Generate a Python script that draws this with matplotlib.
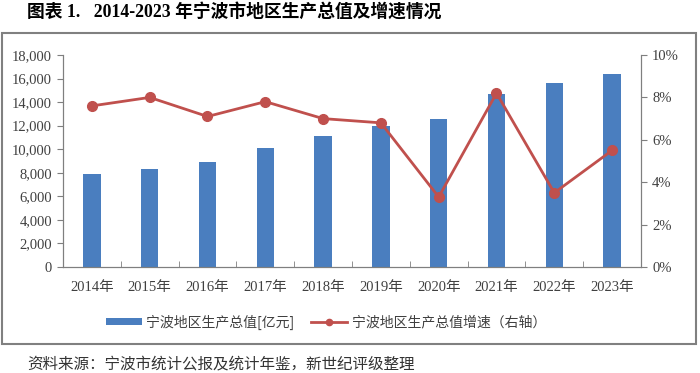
import matplotlib
matplotlib.use("Agg")
import matplotlib.pyplot as plt
from matplotlib.patches import Rectangle
from matplotlib.lines import Line2D
from matplotlib.ticker import FuncFormatter, PercentFormatter

years = ["2014年", "2015年", "2016年", "2017年", "2018年",
         "2019年", "2020年", "2021年", "2022年", "2023年"]
gdp = [7870, 8300, 8910, 10130, 11150, 11970, 12540, 14660, 15650, 16360]
growth = [7.6, 8.0, 7.1, 7.8, 7.0, 6.8, 3.3, 8.2, 3.5, 5.5]

serif = ["Liberation Serif", "Noto Sans CJK SC"]
sans = ["Noto Sans CJK SC", "DejaVu Sans"]
bar_color = "#4A7EBF"
line_color = "#C0504D"
axis_color = "#7F7F7F"

fig = plt.figure(figsize=(7, 3.73), dpi=100)
ax = fig.add_axes([0.09, 0.2842, 0.8257, 0.5683])
ax2 = ax.twinx()

x = list(range(len(years)))
bars = ax.bar(x, gdp, width=0.3, color=bar_color, label="宁波地区生产总值[亿元]", zorder=2)
line, = ax2.plot(x, growth, color=line_color, lw=2, marker="o", ms=7,
                 label="宁波地区生产总值增速（右轴）", zorder=3)

ax.set_xlim(-0.5, len(years) - 0.5)
ax.set_ylim(0, 18000)
ax.set_yticks(range(0, 18001, 2000))
ax.yaxis.set_major_formatter(FuncFormatter(lambda v, p: f"{int(v):,}"))
ax2.set_ylim(0, 10)
ax2.set_yticks(range(0, 11, 2))
ax2.yaxis.set_major_formatter(PercentFormatter(decimals=0))

ax.set_xticks(x)
ax.set_xticklabels(years)
ax.set_xticks([i + 0.5 for i in x[:-1]], minor=True)
ax.tick_params(axis="x", which="major", length=0, pad=10)
ax.tick_params(axis="x", which="minor", length=4, direction="in", color=axis_color)
ax.tick_params(axis="y", length=4, color=axis_color, pad=4)
ax2.tick_params(axis="y", length=4, color=axis_color, pad=4)

for a in (ax, ax2):
    a.spines["top"].set_visible(False)
    for s in ("left", "right", "bottom"):
        a.spines[s].set_color(axis_color)
    for lab in a.get_xticklabels() + a.get_yticklabels():
        lab.set_fontfamily(serif)
        lab.set_fontsize(10.5)
        lab.set_color("#404040")

# legend handles drawn smaller than the plot marks, as in the original
line_handle = Line2D([], [], color=line_color, lw=2, marker="o", ms=4.5,
                     label=line.get_label())
fig.legend(handles=[bars, line_handle], loc="center",
           bbox_to_anchor=(326 / 700, 1 - 322 / 373),
           ncol=2, frameon=False, prop={"family": sans, "size": 10},
           handlelength=2.6, handleheight=0.45, columnspacing=1.2, handletextpad=0.3)
for t in fig.legends[0].get_texts():
    t.set_color("#404040")

fig.patches.append(Rectangle((2 / 700, 1 - 344 / 373), 694 / 700, 311 / 373,
                             transform=fig.transFigure, fill=False,
                             edgecolor="#808080", lw=1.5))

fig.text(27 / 700, 1 - 12 / 373, "图表 1.   2014-2023 年宁波市地区生产总值及增速情况",
         family=serif, fontsize=12.8, fontweight="bold", va="center", ha="left")
fig.text(27 / 700, 1 - 364 / 373, "资料来源：宁波市统计公报及统计年鉴，新世纪评级整理",
         family=sans, fontsize=11.2, va="center", ha="left", color="#333333")

fig.savefig("out.png", dpi=100)
